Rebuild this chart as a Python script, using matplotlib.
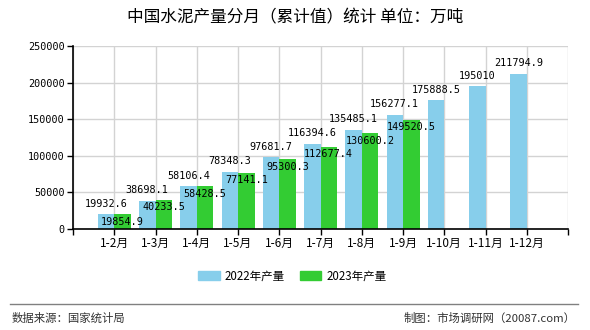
import matplotlib
matplotlib.use("Agg")
import matplotlib.pyplot as plt
import matplotlib.patches as mpatches
import numpy as np

plt.rcParams['font.family'] = ['Noto Sans CJK SC', 'DejaVu Sans']

months = ["1-2月", "1-3月", "1-4月", "1-5月", "1-6月", "1-7月",
          "1-8月", "1-9月", "1-10月", "1-11月", "1-12月"]
vals_2022 = [19932.6, 38698.1, 58106.4, 78348.3, 97681.7, 116394.6,
             135485.1, 156277.1, 175888.5, 195010, 211794.9]
vals_2023 = [19854.9, 40233.5, 58428.5, 77141.1, 95300.3, 112677.4,
             130600.2, 149520.5]
label_2022 = ["19932.6", "38698.1", "58106.4", "78348.3", "97681.7", "116394.6",
              "135485.1", "156277.1", "175888.5", "195010", "211794.9"]
label_2023 = ["19854.9", "40233.5", "58428.5", "77141.1", "95300.3", "112677.4",
              "130600.2", "149520.5"]

C22 = "#87CEEB"
C23 = "#33CC33"
MONO = ["DejaVu Sans Mono", "Noto Sans CJK SC"]

fig = plt.figure(figsize=(5.9, 3.3), dpi=100)
ax = fig.add_axes([73 / 590, 1 - 229 / 330, (568 - 73) / 590, (229 - 46) / 330])

x22 = np.arange(len(vals_2022))
x23 = np.arange(len(vals_2023))
w = 0.4
ax.bar(x22 - w / 2, vals_2022, width=w, color=C22, zorder=2)
ax.bar(x23 + w / 2, vals_2023, width=w, color=C23, zorder=2)

# 数据标签
for xi, v, s in zip(x22, vals_2022, label_2022):
    ax.annotate(s, (xi - w / 2, v), xytext=(0, 4), textcoords="offset points",
                ha="center", va="bottom", fontsize=7.3, family=MONO, zorder=4)
for xi, v, s in zip(x23, vals_2023, label_2023):
    ax.annotate(s, (xi + w / 2, v), xytext=(0, -2), textcoords="offset points",
                ha="center", va="top", fontsize=7.3, family=MONO, zorder=4)

ax.set_xlim(-1, 11)
ax.set_ylim(0, 250000)
ax.set_yticks(np.arange(0, 250001, 50000))
ax.set_yticklabels([str(v) for v in range(0, 250001, 50000)], family=MONO, fontsize=7.3)
ax.set_xticks(np.arange(-1, 12))
ax.set_xticklabels([""] + months + [""], fontsize=8.5)
ax.tick_params(axis="both", length=4, width=1, color="black", pad=2)

ax.grid(True, color="#d3d3d3", linewidth=1, zorder=0)
ax.set_axisbelow(True)
for side in ("top", "right"):
    ax.spines[side].set_visible(False)
ax.spines["left"].set_linewidth(1.2)
ax.spines["bottom"].set_linewidth(1.2)

fig.text(0.5, 1 - 18 / 330, "中国水泥产量分月（累计值）统计 单位：万吨",
         ha="center", va="center", fontsize=12)

handles = [mpatches.Patch(color=C22, label="2022年产量"),
           mpatches.Patch(color=C23, label="2023年产量")]
fig.legend(handles=handles, loc="center", bbox_to_anchor=(0.495, 1 - 276 / 330),
           ncol=2, frameon=False, fontsize=8.3, handlelength=1.9, handleheight=0.8,
           columnspacing=1.3, handletextpad=0.4)

fig.add_artist(plt.Line2D([10 / 590, 578 / 590], [1 - 304 / 330, 1 - 304 / 330],
                          color="#808080", linewidth=1))
fig.text(12 / 590, 1 - 318 / 330, "数据来源：国家统计局", ha="left", va="center",
         fontsize=8.2, color="#333333")
fig.text(576 / 590, 1 - 318 / 330, "制图：市场调研网（20087.com）", ha="right",
         va="center", fontsize=8.2, color="#333333")

fig.savefig("out.png", dpi=100, facecolor="white")
